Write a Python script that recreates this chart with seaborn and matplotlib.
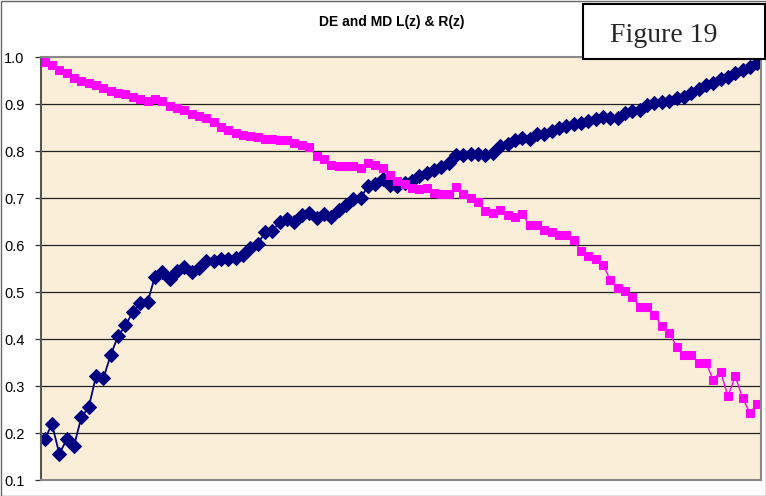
import numpy as np
import pandas as pd
import matplotlib
matplotlib.use("Agg")
import matplotlib.pyplot as plt
import seaborn as sns
from matplotlib.patches import Rectangle

# ---- data ----
L_z = [0.187, 0.219, 0.155, 0.187, 0.173, 0.234, 0.255, 0.322, 0.317, 0.367,
       0.407, 0.429, 0.458, 0.476, 0.478, 0.533, 0.542, 0.527, 0.546, 0.553,
       0.542, 0.551, 0.566, 0.566, 0.570, 0.570, 0.573, 0.578, 0.595, 0.603,
       0.627, 0.630, 0.650, 0.655, 0.650, 0.664, 0.669, 0.657, 0.667, 0.661,
       0.674, 0.686, 0.698, 0.700, 0.726, 0.730, 0.741, 0.728, 0.725, 0.732,
       0.737, 0.747, 0.754, 0.760, 0.767, 0.776, 0.793, 0.792, 0.794, 0.794,
       0.791, 0.796, 0.811, 0.816, 0.824, 0.829, 0.825, 0.836, 0.836, 0.844,
       0.849, 0.854, 0.858, 0.861, 0.864, 0.868, 0.872, 0.871, 0.870, 0.881,
       0.886, 0.887, 0.898, 0.902, 0.905, 0.908, 0.913, 0.916, 0.925, 0.932,
       0.941, 0.946, 0.953, 0.957, 0.966, 0.973, 0.980, 0.987]

R_z = [0.991, 0.984, 0.974, 0.966, 0.955, 0.950, 0.945, 0.941, 0.934, 0.929,
       0.925, 0.921, 0.916, 0.911, 0.906, 0.911, 0.906, 0.896, 0.891, 0.888,
       0.879, 0.875, 0.870, 0.863, 0.851, 0.845, 0.838, 0.834, 0.832, 0.830,
       0.827, 0.825, 0.824, 0.823, 0.817, 0.813, 0.808, 0.790, 0.783, 0.771,
       0.768, 0.768, 0.769, 0.764, 0.776, 0.771, 0.764, 0.749, 0.737, 0.730,
       0.721, 0.719, 0.722, 0.712, 0.710, 0.708, 0.723, 0.710, 0.700, 0.691,
       0.672, 0.668, 0.674, 0.664, 0.661, 0.666, 0.643, 0.643, 0.632, 0.627,
       0.622, 0.622, 0.610, 0.588, 0.577, 0.570, 0.558, 0.526, 0.508, 0.503,
       0.490, 0.469, 0.469, 0.451, 0.428, 0.414, 0.384, 0.366, 0.366, 0.350,
       0.350, 0.313, 0.331, 0.278, 0.321, 0.274, 0.243, 0.262]

categories = list(range(1, len(L_z) + 1))
y_ticks = [0.1, 0.2, 0.3, 0.4, 0.5, 0.6, 0.7, 0.8, 0.9, 1.0]
y_tick_labels = ["0.1", "0.2", "0.3", "0.4", "0.5", "0.6", "0.7", "0.8", "0.9", "1.0"]
title = "DE and MD L(z) & R(z)"
label_box = "Figure 19"

df = pd.DataFrame({"z": categories, "L": L_z, "R": R_z})

sns.set_style("white")
plt.rcParams["font.family"] = ["Liberation Sans", "DejaVu Sans"]

W, H = 766, 496
fig = plt.figure(figsize=(W / 100, H / 100), dpi=100)
fig.patch.set_facecolor("white")

ax = fig.add_axes([41 / W, (H - 480) / H, 720 / W, (480 - 57.3) / H])
ax.set_facecolor("#FAEED8")

sns.lineplot(data=df, x="z", y="L", ax=ax, color="#000080", marker="D",
             markersize=6.8, markeredgecolor="#000080", linewidth=1.3)
sns.lineplot(data=df, x="z", y="R", ax=ax, color="#FF00FF", marker="s",
             markersize=6.2, markeredgecolor="#FF00FF", linewidth=1.0)

ax.set_xlim(0.5, len(categories) + 0.5)
ax.set_ylim(0.1, 1.0)
ax.set_yticks(y_ticks)
ax.set_yticklabels(y_tick_labels)
ax.set_xticks([])
ax.set_xlabel("")
ax.set_ylabel("")
for yv in y_ticks[1:-1]:
    ax.axhline(yv, color="#222222", linewidth=0.9, zorder=0.5)
ax.tick_params(axis="y", length=4, width=0.9, color="#333333", pad=8,
               labelsize=10.5, labelcolor="black", left=True)
for side in ["top", "right", "bottom"]:
    ax.spines[side].set_color("#888888")
    ax.spines[side].set_linewidth(1.5)
ax.spines["left"].set_color("#555555")
ax.spines["left"].set_linewidth(1.5)

fig.text(392 / W, 1 - 22 / H, title, ha="center", va="center",
         fontsize=10, fontweight="bold", color="black",
         family=["Liberation Sans", "DejaVu Sans"])

# boxed figure label
fig.patches.append(Rectangle((583 / W, 1 - 59 / H), (765 - 583) / W, (59 - 4) / H,
                             transform=fig.transFigure, facecolor="white",
                             edgecolor="black", linewidth=1.5, zorder=5))
fig.text(664 / W, 1 - 35 / H, label_box, ha="center", va="center", fontsize=20,
         family=["Liberation Serif", "DejaVu Serif"], zorder=6)

# thin outer frame
fig.patches.append(Rectangle((0.5 / W, 0.5 / H), (W - 1) / W, (H - 1.5) / H,
                             transform=fig.transFigure, facecolor="none",
                             edgecolor="#666666", linewidth=1.0, zorder=4))

fig.savefig("out.png", dpi=100)
